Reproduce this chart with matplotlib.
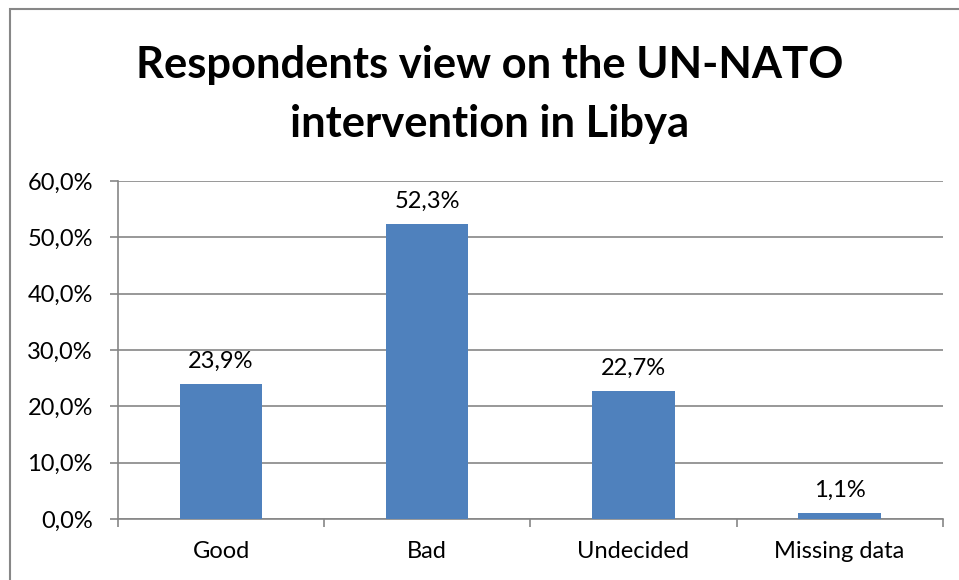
import matplotlib.pyplot as plt
from matplotlib.patches import Rectangle
from matplotlib.ticker import FuncFormatter, FixedLocator
import numpy as np

categories = ['Good', 'Bad', 'Undecided', 'Missing data']
values = [23.9, 52.3, 22.7, 1.1]
title = 'Respondents view on the UN-NATO\nintervention in Libya'

bar_color = '#4F81BD'
grid_color = '#868686'
plt.rcParams['font.family'] = ['Lato', 'DejaVu Sans']

fig = plt.figure(figsize=(9.59, 5.80), dpi=100)
ax = fig.add_axes([0.123, 0.105, 0.860, 0.583])

# chart border
fig.patches.append(Rectangle((10 / 959, -0.05), 1.1, 1 - 9 / 580 + 0.05,
                             transform=fig.transFigure, fill=False,
                             edgecolor='#878787', linewidth=1.5))

x = np.arange(len(categories))
bars = ax.bar(x, values, width=0.4, color=bar_color, zorder=3)

for bar, v in zip(bars, values):
    ax.annotate(f'{v:.1f}%'.replace('.', ','),
                (bar.get_x() + bar.get_width() / 2, v),
                xytext=(0, 9), textcoords='offset points',
                ha='center', va='bottom', fontsize=17)

ax.set_xlim(-0.5, len(categories) - 0.5)
ax.set_ylim(0, 60)
ax.set_yticks(np.arange(0, 61, 10))
ax.yaxis.set_major_formatter(FuncFormatter(lambda v, p: f'{v:.1f}%'.replace('.', ',')))
ax.yaxis.grid(True, color=grid_color, linewidth=1.2, zorder=0)

# category labels centered, tick marks at boundaries
ax.set_xticks(x)
ax.set_xticklabels(categories, fontsize=17)
ax.tick_params(axis='x', which='major', length=0, pad=16)
ax.xaxis.set_minor_locator(FixedLocator(np.arange(-0.5, len(categories), 1.0)))
ax.tick_params(axis='x', which='minor', length=6, color=grid_color, width=1.2)
ax.tick_params(axis='y', length=6, color=grid_color, width=1.2, labelsize=17, pad=12)

for s in ['top', 'right']:
    ax.spines[s].set_visible(False)
for s in ['left', 'bottom']:
    ax.spines[s].set_color(grid_color)
    ax.spines[s].set_linewidth(1.2)

fig.text(0.511, 0.837, title, ha='center', va='center', fontsize=31.3,
         fontweight='bold', linespacing=1.55)

fig.savefig('out.png', dpi=100)
